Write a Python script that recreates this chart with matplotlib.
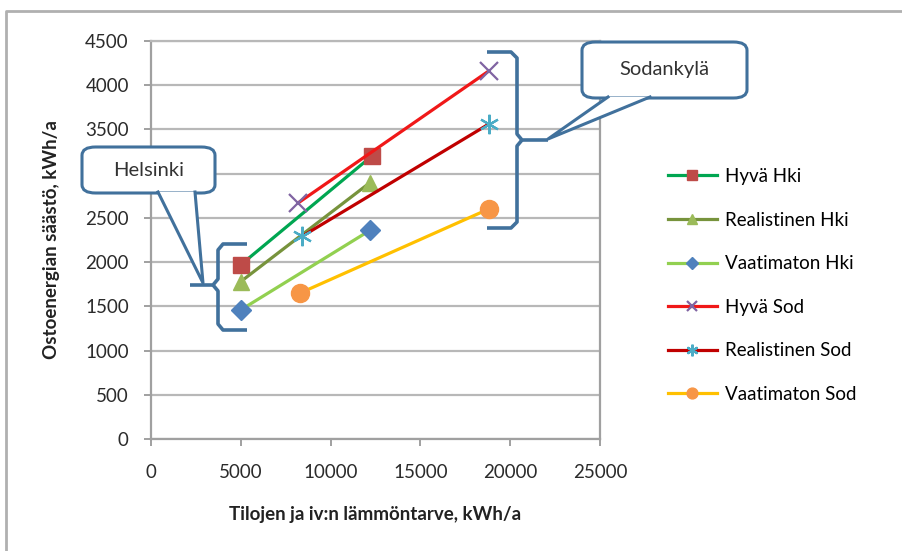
import matplotlib.pyplot as plt
from matplotlib.patches import FancyBboxPatch, Polygon
from matplotlib.lines import Line2D

plt.rcParams['font.family'] = ['Lato', 'DejaVu Sans']

# data
hyva_hki_x = [5000, 12300]
hyva_hki_y = [1970, 3200]
real_hki_x = [5000, 12200]
real_hki_y = [1780, 2900]
vaat_hki_x = [5000, 12200]
vaat_hki_y = [1460, 2360]
hyva_sod_x = [8200, 18800]
hyva_sod_y = [2670, 4160]
real_sod_x = [8400, 18800]
real_sod_y = [2290, 3560]
vaat_sod_x = [8300, 18800]
vaat_sod_y = [1650, 2600]

labels = ['Hyvä Hki', 'Realistinen Hki', 'Vaatimaton Hki',
          'Hyvä Sod', 'Realistinen Sod', 'Vaatimaton Sod']

W, H = 902, 551
fig = plt.figure(figsize=(W / 100, H / 100), dpi=100)
ax = fig.add_axes([151 / W, 1 - 439 / H, (600 - 151) / W, (439 - 41) / H])


def px(x, y):
    return (x / W, 1 - y / H)


lw = 2.3
ax.plot(hyva_hki_x, hyva_hki_y, color='#00a651', lw=lw, marker='s', ms=12,
        mfc='#be4b48', mec='#be4b48', label=labels[0])
ax.plot(real_hki_x, real_hki_y, color='#77933c', lw=lw, marker='^', ms=12,
        mfc='#9bbb59', mec='#9bbb59', label=labels[1])
ax.plot(vaat_hki_x, vaat_hki_y, color='#92d050', lw=lw, marker='D', ms=10,
        mfc='#4f81bd', mec='#4f81bd', label=labels[2])
ax.plot(hyva_sod_x, hyva_sod_y, color='#f01818', lw=lw, marker='x', ms=13,
        mec='#8064a2', mew=1.6, label=labels[3])
ax.plot(real_sod_x, real_sod_y, color='#c00000', lw=lw, marker=(6, 2, 0), ms=14,
        mec='#4bacc6', mew=1.6, label=labels[4])
ax.plot(vaat_sod_x, vaat_sod_y, color='#ffc000', lw=lw, marker='o', ms=13,
        mfc='#f79646', mec='#f79646', label=labels[5])

ax.set_xlim(0, 25000)
ax.set_ylim(0, 4500)
ax.set_xticks(range(0, 25001, 5000))
ax.set_yticks(range(0, 4501, 500))
ax.grid(axis='y', color='#b8b8b8', lw=1.6)
ax.set_axisbelow(True)
for s in ax.spines.values():
    s.set_color('#a0a0a0')
    s.set_linewidth(1.6)
ax.spines['top'].set_color('#b8b8b8')
ax.tick_params(colors='#a0a0a0', labelcolor='#2b2b2b', labelsize=13.5,
               length=5, width=1.4)
ax.tick_params(axis='x', pad=13)
ax.tick_params(axis='y', pad=11)
ax.set_xlabel('Tilojen ja iv:n lämmöntarve, kWh/a', fontsize=13.5,
              fontweight='bold', color='#222222', labelpad=18)
ax.set_ylabel('Ostoenergian säästö, kWh/a', fontsize=13.5,
              fontweight='bold', color='#222222', labelpad=18)

ax.legend(loc='upper left', bbox_to_anchor=px(651, 151), bbox_transform=fig.transFigure,
          frameon=False, fontsize=13.5, labelspacing=1.42, handlelength=2.6,
          handletextpad=0.45, markerscale=0.6)

# callouts and braces
blue = '#41719c'


def callout(x0, y0, x1, y1, wedge, text):
    bx, by = px(x0, y1)
    box = FancyBboxPatch((bx, by), (x1 - x0) / W, (y1 - y0) / H,
                         boxstyle='round,pad=0,rounding_size=0.015',
                         transform=fig.transFigure, fc='white', ec=blue, lw=2.2,
                         zorder=10)
    fig.patches.append(box)
    pts = [px(*p) for p in wedge]
    fig.patches.append(Polygon(pts, closed=False, transform=fig.transFigure,
                               fc='white', ec='none', zorder=11))
    fig.lines.append(Line2D([p[0] for p in pts], [p[1] for p in pts],
                            transform=fig.transFigure, color=blue, lw=2.2, zorder=12))
    tx, ty = px((x0 + x1) / 2, (y0 + y1) / 2)
    fig.text(tx, ty, text, ha='center', va='center', fontsize=14.5,
             color='#333333', zorder=13)


def polyline(points):
    pts = [px(*p) for p in points]
    fig.lines.append(Line2D([p[0] for p in pts], [p[1] for p in pts],
                            transform=fig.transFigure, color=blue, lw=2.6,
                            solid_capstyle='butt', zorder=9))


callout(82, 147, 215, 193, [(158, 192), (203, 283), (195, 192)], 'Helsinki')
polyline([(247, 244), (223, 244), (218, 250), (218, 279), (213, 285), (190, 285)])
polyline([(213, 285), (218, 291), (218, 324), (223, 330), (247, 330)])

callout(582, 42, 747, 98, [(608, 97), (548, 139), (650, 97)], 'Sodankylä')
polyline([(487, 52), (511, 52), (517, 58), (517, 134), (522, 140), (548, 140)])
polyline([(522, 140), (517, 146), (517, 222), (511, 228), (487, 228)])

# outer chart border (top and left visible)
fig.lines.append(Line2D([6 / W, 6 / W, 1], [0, 1 - 11 / H, 1 - 11 / H],
                        transform=fig.transFigure, color='#b0b0b0', lw=2))

fig.savefig('out.png', dpi=100)
